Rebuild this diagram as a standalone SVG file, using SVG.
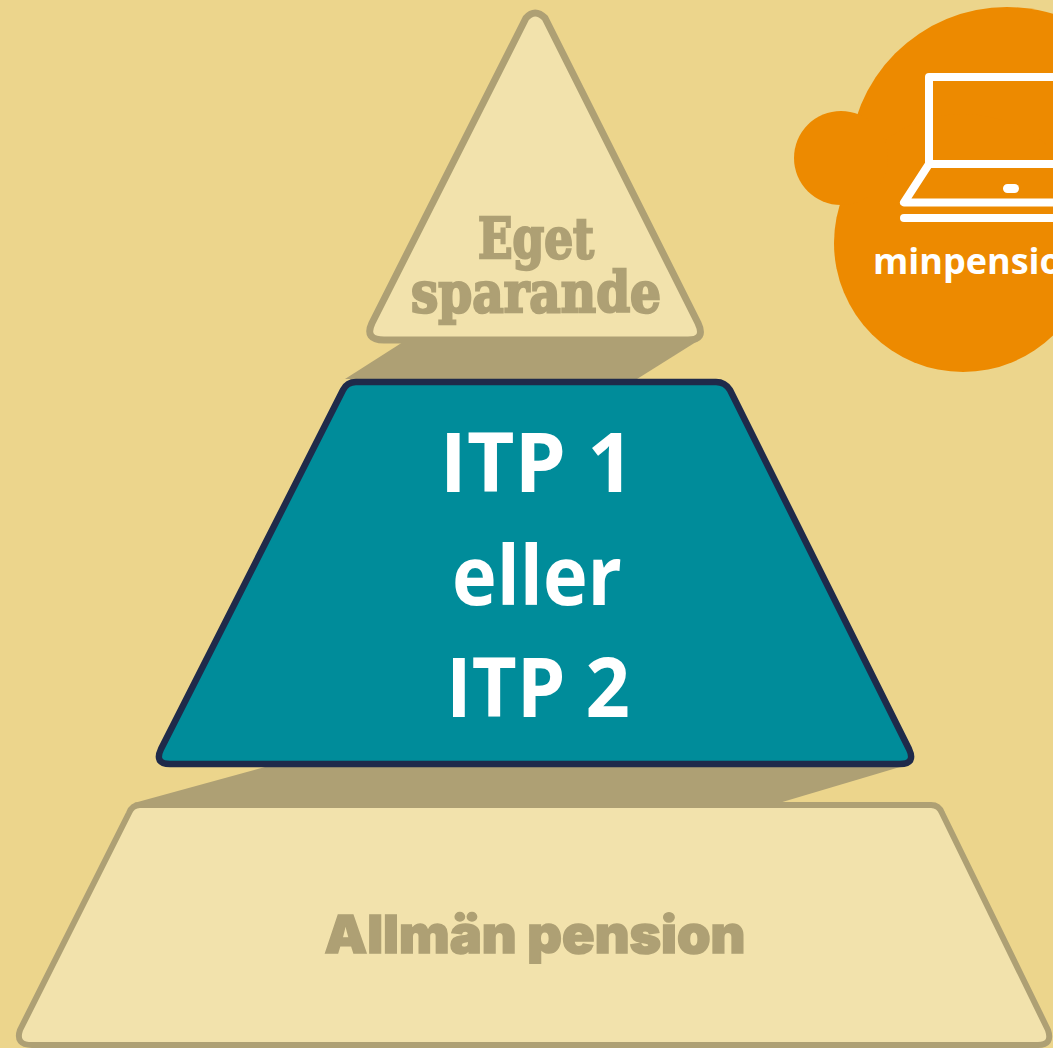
<svg xmlns="http://www.w3.org/2000/svg" width="1053" height="1048" viewBox="0 0 1053 1048">
<style>
.tier{fill:#f2e2ac;stroke:#aea074;stroke-width:7;stroke-linejoin:round}
.shadow{fill:#aea074}
.muted{fill:#aea074;stroke:#aea074;text-anchor:middle}
.main{font-family:"Open Sans","Liberation Sans",sans-serif;font-weight:700;font-size:82px;fill:#fff;text-anchor:middle}
.icon{fill:none;stroke:#fff;stroke-width:8;stroke-linejoin:round;stroke-linecap:round}
</style>
<rect id="background" width="1053" height="1048" fill="#ecd58c"/>
<g id="shadows">
<polygon class="shadow" points="403,342 345,379 637,379 696,342"/>
<polygon class="shadow" points="265,767 134,803 779,803 900,767"/>
</g>
<g id="eget-sparande">
<path class="tier" d="M526,18Q535,8 545,18L698,323Q706,340 688,340H384Q364,340 372,323Z"/>
<text class="muted" x="536" y="258" font-family="'DejaVu Serif',serif" font-weight="700" font-size="56" stroke-width="2.5" textLength="116" lengthAdjust="spacingAndGlyphs">Eget</text>
<text class="muted" x="536" y="312" font-family="'DejaVu Serif',serif" font-weight="700" font-size="56" stroke-width="2.5" textLength="250" lengthAdjust="spacingAndGlyphs">sparande</text>
</g>
<g id="itp">
<path d="M343,390Q347,382 356,382H716Q725,382 730,390L909,749Q916,764 900,764H170Q154,764 161,749Z" fill="#008c9a" stroke="#1f2a4a" stroke-width="6.5" stroke-linejoin="round"/>
<text class="main" x="537" y="492">ITP 1</text>
<text class="main" x="537" y="605" textLength="170" lengthAdjust="spacingAndGlyphs">eller</text>
<text class="main" x="538" y="717" textLength="184" lengthAdjust="spacingAndGlyphs">ITP 2</text>
</g>
<g id="allman-pension">
<path class="tier" style="stroke-width:6" d="M129,813Q132,805 140,805H931Q939,805 942,813L1048,1030Q1053,1045 1038,1045H32Q15,1045 20,1030Z"/>
<text class="muted" x="535" y="953" font-family="Inter,'Liberation Sans',sans-serif" font-weight="900" font-size="52" stroke-width="1.5" textLength="421" lengthAdjust="spacingAndGlyphs">Allmän pension</text>
</g>
<g id="minpension">
<circle cx="1007" cy="165" r="158" fill="#ed8a00"/>
<circle cx="963" cy="243" r="129" fill="#ed8a00"/>
<circle cx="841" cy="158" r="47" fill="#ed8a00"/>
<path class="icon" d="M929,164V77H1093V164Z"/>
<path class="icon" d="M929,164L904,202.500H1118L1093,164"/>
<path class="icon" d="M904,218H1118"/>
<rect x="1003" y="184" width="16" height="9" rx="4.500" fill="#fff"/>
<text x="873" y="274" font-family="'Open Sans','Liberation Sans',sans-serif" font-weight="700" font-size="36" fill="#fff">minpension</text>
</g>
</svg>
